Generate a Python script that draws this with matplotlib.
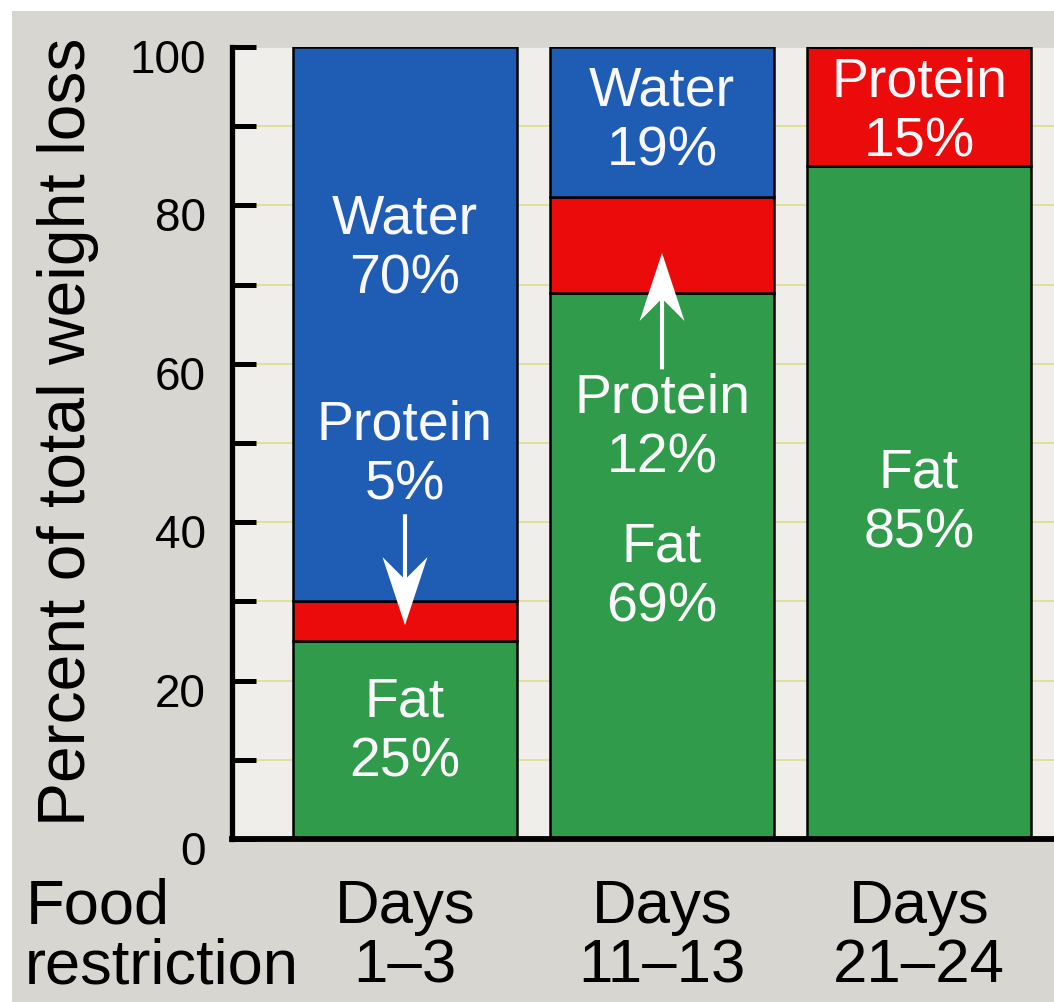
import matplotlib.pyplot as plt
from matplotlib.patches import Rectangle
import matplotlib.transforms as mtransforms

plt.rcParams['font.family'] = ['Liberation Sans', 'DejaVu Sans']

# data (percent of total weight loss)
periods = ["Days\n1–3", "Days\n11–13", "Days\n21–24"]
fat = [25, 69, 85]
protein = [5, 12, 15]
water = [70, 19, 0]

# where the labels sit inside each bar (y centre, None = no label)
water_label_y = [74.5, 90.7, None]
protein_label_y = [48.6, 52.0, 91.9]
fat_label_y = [13.6, 33.1, 42.5]

# white arrows pointing at the thin protein slices: (bar, start, tip)
arrows = [(0, 41.0, 27.0), (1, 59.3, 74.0)]

blue = '#1f5db5'
red = '#ec0b0b'
green = '#2f9b4b'

fig = plt.figure(figsize=(10.54, 10.03), dpi=100)
fig.patch.set_facecolor('white')
fig.add_artist(Rectangle((12 / 1054, 0), 1, 1 - 12 / 1003, transform=fig.transFigure,
                         facecolor='#d8d6d1', edgecolor='none', zorder=-10))

ax = fig.add_axes([232 / 1054, 1 - 840 / 1003, 822 / 1054, 792 / 1003])
ax.set_facecolor('#efeeea')

x = list(range(len(periods)))
w = 0.872
bottom2 = [f + p for f, p in zip(fat, protein)]
ax.bar(x, fat, w, color=green, edgecolor='black', linewidth=1.8)
ax.bar(x, protein, w, bottom=fat, color=red, edgecolor='black', linewidth=1.8)
ax.bar(x, water, w, bottom=bottom2, color=blue, edgecolor='black', linewidth=1.8)

txt = dict(ha='center', va='center', color='#fbf8fb', fontsize=40, linespacing=1.2, zorder=5)
for i in x:
    if water_label_y[i] is not None:
        ax.text(i, water_label_y[i], f"Water\n{water[i]}%", **txt)
    ax.text(i, protein_label_y[i], f"Protein\n{protein[i]}%", **txt)
    ax.text(i, fat_label_y[i], f"Fat\n{fat[i]}%", **txt)

for i, y0, y1 in arrows:
    ax.arrow(i, y0, 0, y1 - y0, width=0.016, head_width=0.175, head_length=8.6,
             overhang=0.3, length_includes_head=True, facecolor='white',
             edgecolor='none', zorder=4)

ax.set_xlim(-0.673, 2.525)
ax.set_ylim(0, 100)

yt = list(range(0, 101, 10))
ax.set_yticks(yt, [str(t) if t % 20 == 0 else '' for t in yt])
ax.set_xticks(x, periods)
for lab in ax.get_xticklabels():
    lab.set_linespacing(1.05)
ax.tick_params(axis='y', direction='in', length=17, width=3.6, pad=19, labelsize=33)
ax.tick_params(axis='x', length=0, pad=28, labelsize=44.5)
shift = mtransforms.ScaledTranslation(0, -8 / 100, fig.dpi_scale_trans)
for lab in ax.get_yticklabels():
    lab.set_transform(lab.get_transform() + shift)

ax.yaxis.grid(True, color='#dcdc86', linewidth=1.1)
ax.set_axisbelow(True)

for s in ['top', 'right']:
    ax.spines[s].set_visible(False)
ax.spines['left'].set_linewidth(3.8)
ax.spines['bottom'].set_linewidth(4.2)

ax.set_ylabel('Percent of total weight loss', fontsize=47.5, va='center')
ax.yaxis.set_label_coords(-0.2, 0.515)

fig.text(26 / 1054, 1 - 924 / 1003, 'Food', fontsize=45.5, va='baseline')
fig.text(25 / 1054, 1 - 984 / 1003, 'restriction', fontsize=45.5, va='baseline')

fig.savefig('out.png', dpi=100)
